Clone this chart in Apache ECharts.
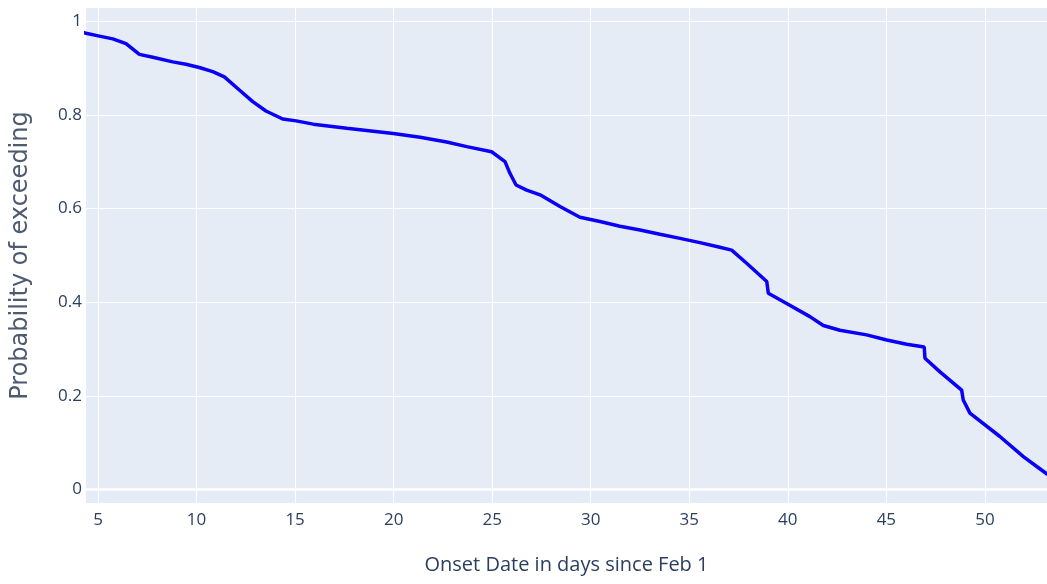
<!DOCTYPE html>
<html>
<head>
<meta charset="utf-8">
<title>Probability of exceeding</title>
<script src="https://cdn.jsdelivr.net/npm/echarts@6/dist/echarts.min.js"></script>
<style>
  html, body { margin: 0; padding: 0; background: #ffffff; }
  #chart { width: 1047px; height: 584px; }
</style>
</head>
<body>
<div id="chart"></div>
<script>
// Onset date (days since Feb 1) and the exceedance probability at that date
const onsetDays = [
  4.2, 4.39, 5.07, 5.75, 6.42, 7.10, 7.78, 8.79, 9.46, 10.14, 10.82, 11.41,
  12.17, 12.85, 13.52, 14.37, 15.05, 15.92, 17.62, 19.98, 21.34, 22.69, 23.71,
  24.97, 25.65, 25.90, 26.21, 26.75, 27.43, 28.44, 29.45, 30.47, 31.48, 32.50,
  33.51, 34.53, 35.54, 36.55, 37.15, 37.91, 38.93, 39.01, 39.94, 41.12, 41.80,
  42.64, 44.00, 45.02, 46.03, 46.92, 46.96, 47.72, 48.82, 48.90, 49.24, 50.76,
  51.95, 52.63, 53.15, 53.6
];
const probExceed = [
  0.977, 0.974, 0.968, 0.962, 0.952, 0.929, 0.923, 0.913, 0.908, 0.901, 0.892, 0.881,
  0.853, 0.828, 0.808, 0.791, 0.787, 0.780, 0.771, 0.760, 0.752, 0.742, 0.732,
  0.721, 0.700, 0.675, 0.650, 0.639, 0.629, 0.604, 0.581, 0.572, 0.562, 0.554,
  0.545, 0.536, 0.527, 0.517, 0.511, 0.483, 0.444, 0.419, 0.397, 0.369, 0.350,
  0.340, 0.330, 0.319, 0.310, 0.304, 0.280, 0.251, 0.212, 0.191, 0.163, 0.113,
  0.070, 0.049, 0.033, 0.022
];

// Tick positions and axis ranges
const xTickValues = [5, 10, 15, 20, 25, 30, 35, 40, 45, 50];
const yTickValues = [0, 0.2, 0.4, 0.6, 0.8, 1];
const xRange = [4.39, 53.15];
const yRange = [-0.029, 1.028];

const chart = echarts.init(document.getElementById('chart'), null, { renderer: 'canvas' });

const tickFont = {
  color: '#2a3f5f',
  fontFamily: 'Open Sans, Noto Sans, sans-serif',
  fontSize: 17
};

chart.setOption({
  animation: false,
  backgroundColor: '#ffffff',
  grid: {
    left: 86, right: 0, top: 8, bottom: 81,
    show: true,
    backgroundColor: '#E5ECF6',
    borderWidth: 0
  },
  xAxis: {
    type: 'value',
    min: xRange[0],
    max: xRange[1],
    name: 'Onset Date in days since Feb 1',
    nameLocation: 'middle',
    nameGap: 52,
    nameTextStyle: {
      color: '#2a3f5f',
      fontFamily: 'Open Sans, Noto Sans, sans-serif',
      fontSize: 20
    },
    axisLine: { show: false },
    axisTick: { show: false, customValues: xTickValues },
    axisLabel: Object.assign({ customValues: xTickValues, margin: 9 }, tickFont),
    splitLine: { show: true, lineStyle: { color: '#ffffff', width: 1 } }
  },
  yAxis: {
    type: 'value',
    min: yRange[0],
    max: yRange[1],
    name: 'Probability of exceeding',
    nameLocation: 'middle',
    nameGap: 53,
    nameTextStyle: {
      color: '#4d5b70',
      fontFamily: 'DejaVu Sans, sans-serif',
      fontSize: 24
    },
    axisLine: { show: false },
    axisTick: { show: false, customValues: yTickValues },
    axisLabel: Object.assign({
      customValues: yTickValues,
      margin: 4,
      formatter: v => String(Math.round(v * 10) / 10)
    }, tickFont),
    splitLine: { show: true, lineStyle: { color: '#ffffff', width: 1 } }
  },
  series: [{
    type: 'line',
    data: onsetDays.map((d, i) => [d, probExceed[i]]),
    showSymbol: false,
    symbol: 'none',
    clip: true,
    lineStyle: { color: '#0a00f5', width: 3.5 },
    markLine: {
      silent: true,
      symbol: ['none', 'none'],
      label: { show: false },
      lineStyle: { color: '#ffffff', width: 2.5, type: 'solid' },
      data: [{ yAxis: 0 }]
    },
    z: 3
  }]
});
</script>
</body>
</html>
